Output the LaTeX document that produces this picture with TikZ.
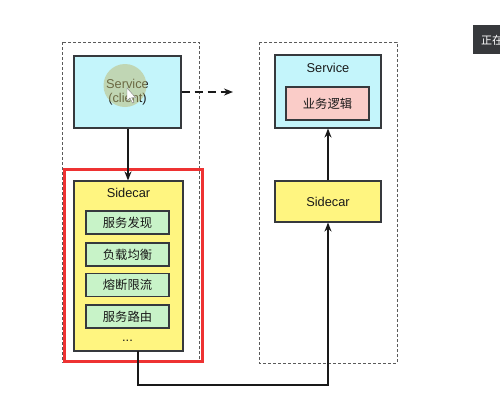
\documentclass[tikz,border=0pt]{standalone}
\usepackage{fontspec}
\setmainfont{Liberation Sans}
\newfontfamily\cjk{Noto Sans CJK SC}
\usetikzlibrary{arrows.meta}
\definecolor{cyanfill}{RGB}{196,245,251}
\definecolor{pinkfill}{RGB}{250,204,200}
\definecolor{yellowfill}{RGB}{255,245,128}
\definecolor{greenfill}{RGB}{200,243,200}
\definecolor{edge}{RGB}{54,57,61}
\definecolor{redframe}{RGB}{238,50,50}
\definecolor{outer}{RGB}{90,90,90}
\definecolor{darktab}{RGB}{55,57,60}
\begin{document}
\begin{tikzpicture}[x=1pt,y=-1pt,
  box/.style={draw=edge, line width=1.1pt, inner sep=0pt, font=\fontsize{12.8}{14.5}\selectfont, text=black!90},
  subbox/.style={box, fill=greenfill, minimum width=83pt, minimum height=23pt, font=\cjk\fontsize{12.3}{14}\selectfont},
  group/.style={draw=outer, line width=0.9pt, dash pattern=on 3pt off 2pt},
  conn/.style={draw=black!90, line width=1.7pt, -{Stealth[length=9pt,width=7pt]}},
  lbl/.style={inner sep=0pt, font=\fontsize{12.8}{14.5}\selectfont, text=black!90}
]
\useasboundingbox[fill=white] (0,0) rectangle (500,418);

% outer dashed groups
\draw[group] (62,42) rectangle (199,362);
\draw[group] (259,42) rectangle (397,363);

% left service (client)
\node[box, fill=cyanfill, minimum width=107pt, minimum height=72pt, align=center] (svc) at (127.5,92) {Service\\(client)};
% cursor highlight
\fill[fill={rgb,255:red,190;green,185;blue,110}, opacity=0.5] (125,85.5) circle (21.5pt);
\draw[fill=white, draw=gray, line width=0.4pt] (127,88) -- (127,101) -- (130,98) -- (132.5,103) -- (134,102.3) -- (131.6,97.5) -- (135.5,97.5) -- cycle;

% left sidecar
\node[box, fill=yellowfill, minimum width=109pt, minimum height=170pt] (scl) at (128.5,266) {};
\node[lbl] (scltitle) at (128.5,193) {Sidecar};
\node[subbox] (s1) at (127.5,222.5) {服务发现};
\node[subbox] (s2) at (127.5,254.5) {负载均衡};
\node[subbox] (s3) at (127.5,285) {熔断限流};
\node[subbox] (s4) at (127.5,316.5) {服务路由};
\node[lbl] (dots) at (127.5,341) {...};

% red highlight
\draw[redframe, line width=3pt] (64,169) rectangle (202,361);

% right service
\node[box, fill=cyanfill, minimum width=106pt, minimum height=73pt] (svcr) at (328,91.5) {};
\node[lbl] (svcrtitle) at (328,68) {Service};
\node[box, fill=pinkfill, minimum width=83pt, minimum height=33pt, font=\cjk\fontsize{12.3}{14}\selectfont] (biz) at (327.5,103.5) {业务逻辑};

% right sidecar
\node[box, fill=yellowfill, minimum width=106pt, minimum height=41pt] (scr) at (328,201.5) {Sidecar};

% connectors
\coordinate (dashend) at (233,92);
\draw[conn, dash pattern=on 8pt off 5pt] (svc.east) -- (dashend);
\draw[conn] (svc.south -| 128,0) -- (128,0 |- scl.north);
\coordinate (outL) at (138,351);
\coordinate (bottomL) at (138,385);
\coordinate (bottomR) at (328,385);
\draw[conn] (outL) -- (bottomL) -- (bottomR) -- (scr.south);
\draw[conn] (scr.north) -- (svcr.south);

% dark tab at the right edge (cut off by the edge, as in the reference)
\begin{scope}
\clip (0,0) rectangle (500,418);
\fill[darktab] (473,25) rectangle (505,54);
\node[anchor=west, inner sep=0pt, text=white, font=\cjk\fontsize{11}{13}\selectfont] (tab) at (481,40) {正在};
\end{scope}
\end{tikzpicture}
\end{document}
